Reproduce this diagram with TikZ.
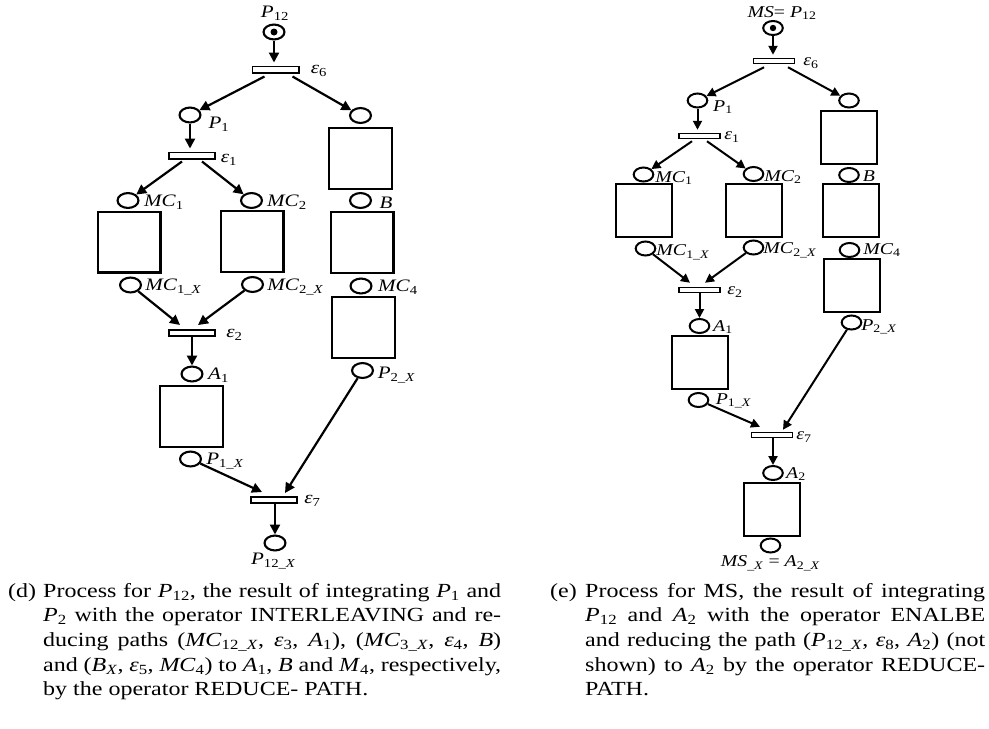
\documentclass[tikz,border=0pt]{standalone}
\usepackage{fontspec}
\setmainfont{Liberation Serif}[FakeStretch=1.2]
\usetikzlibrary{arrows.meta,shapes.geometric}
\newcommand\sub[1]{\textsubscript{#1}}
\newcommand\ux{\_\textit{X}}
\begin{document}
\begin{tikzpicture}[x=1pt,y=-1pt,
  placeL/.style={ellipse,draw,line width=2.1pt,inner sep=0,minimum width=20.9pt,minimum height=14.9pt},
  placeR/.style={ellipse,draw,line width=2pt,inner sep=0,minimum width=19.6pt,minimum height=14pt},
  transL/.style={rectangle,draw,line width=1.6pt,inner sep=0,minimum width=46.4pt,minimum height=6.4pt},
  transR/.style={rectangle,draw,line width=1.5pt,inner sep=0,minimum width=40.8pt,minimum height=5pt},
  boxL/.style={rectangle,draw,line width=2.2pt,inner sep=0,minimum width=62.8pt,minimum height=60.8pt},
  boxR/.style={rectangle,draw,line width=2pt,inner sep=0,minimum width=56pt,minimum height=53pt},
  lblL/.style={inner sep=0,font=\fontsize{17.5}{19}\selectfont},
  lblR/.style={inner sep=0,font=\fontsize{16.5}{18}\selectfont},
  arcL/.style={-{Triangle[length=10pt,width=10pt]},line width=2.2pt},
  arcR/.style={-{Triangle[length=9pt,width=9pt]},line width=2pt},
  capt/.style={inner sep=0,anchor=base west,font=\fontsize{20}{24.7}\selectfont}]
\useasboundingbox (0,0) rectangle (989,729);

% ---------------- process (d) ----------------
\node[placeL] (p12) at (274,32) {};
\fill (p12) circle (3.5pt);
\node[lblL] (lp12) at (275,13) {\textit{P}\sub{12}};
\node[transL] (e6) at (275.5,69.5) {};
\node[lblL] (le6) at (319,71) {\textit{ε}\sub{6}};
\node[placeL] (p1) at (190,115) {};
\node[lblL] (lp1) at (219,124) {\textit{P}\sub{1}};
\node[placeL] (q1) at (360.5,115.5) {};
\node[boxL] (b1) at (360.5,158.5) {};
\node[transL] (e1) at (192,155.5) {};
\node[lblL] (le1) at (229,160) {\textit{ε}\sub{1}};

\node[placeL] (mc1) at (128,200.5) {};
\node[lblL] (lmc1) at (164,202) {\textit{MC}\sub{1}};
\node[boxL] (bm1) at (129,242) {};
\node[placeL] (mc1x) at (130.5,285) {};
\node[lblL] (lmc1x) at (173.5,287) {\textit{MC}\sub{1\ux}};

\node[placeL] (mc2) at (251.5,200.5) {};
\node[lblL] (lmc2) at (287,202) {\textit{MC}\sub{2}};
\node[boxL] (bm2) at (252,241.5) {};
\node[placeL] (mc2x) at (252.5,284.5) {};
\node[lblL] (lmc2x) at (295.5,287) {\textit{MC}\sub{2\ux}};

\node[placeL] (bp) at (360.5,200.5) {};
\node[lblL] (lbp) at (386,203) {\textit{B}};
\node[boxL] (b2) at (362,242.5) {};
\node[placeL] (mc4) at (361,286) {};
\node[lblL] (lmc4) at (398,287) {\textit{MC}\sub{4}};
\node[boxL] (b3) at (363.5,327.5) {};
\node[placeL] (p2x) at (362.5,370.5) {};
\node[lblL] (lp2x) at (396.5,375) {\textit{P}\sub{2\ux}};

\node[transL] (e2) at (192,333) {};
\node[lblL] (le2) at (234.5,335) {\textit{ε}\sub{2}};
\node[placeL] (a1) at (192,374) {};
\node[lblL] (la1) at (218.5,375) {\textit{A}\sub{1}};
\node[boxL] (ba1) at (191.5,416.5) {};
\node[placeL] (p1x) at (190.5,459) {};
\node[lblL] (lp1x) at (225,461) {\textit{P}\sub{1\ux}};
\node[transL] (e7) at (274,500) {};
\node[lblL] (le7) at (312.5,501) {\textit{ε}\sub{7}};
\node[placeL] (p12x) at (275,543) {};
\node[lblL] (lp12x) at (273.5,561) {\textit{P}\sub{12\ux}};

\draw[arcL,shorten >=3pt] (p12) -- (p12 |- e6.north);
\draw[arcL] ([xshift=-11pt,yshift=-3pt]e6.south) -- (p1);
\draw[arcL] ([xshift=17pt,yshift=-3pt]e6.south) -- (q1);
\draw[arcL,shorten >=3pt] (p1) -- (p1 |- e1.north);
\draw[arcL] ([xshift=-10pt,yshift=-2pt]e1.south) -- (mc1);
\draw[arcL] ([xshift=10pt,yshift=-2pt]e1.south) -- (mc2);
\draw[arcL] (mc1x) -- ([xshift=-12pt,yshift=4pt]e2.north);
\draw[arcL] (mc2x) -- ([xshift=6pt,yshift=4pt]e2.north);
\draw[arcL] (a1 |- e2.south) -- (a1);
\draw[arcL] (p1x) -- ([xshift=-12pt,yshift=4pt]e7.north);
\draw[arcL] (p2x) -- ([xshift=11pt,yshift=3pt]e7.north);
\draw[arcL] (p12x |- e7.south) -- (p12x);

% ---------------- process (e) ----------------
\node[placeR] (ms) at (773,28) {};
\fill (ms) circle (3.2pt);
\node[lblR] (lms) at (782,13) {\textit{MS}= \textit{P}\sub{12}};
\node[transR] (f6) at (774,61) {};
\node[lblR] (lf6) at (811,63) {\textit{ε}\sub{6}};
\node[placeR] (r1) at (697.5,100.5) {};
\node[lblR] (lr1) at (723,107) {\textit{P}\sub{1}};
\node[placeR] (s1) at (849,100.5) {};
\node[boxR] (c1) at (849,137.5) {};
\node[transR] (f1) at (699.5,136) {};
\node[lblR] (lf1) at (732,137) {\textit{ε}\sub{1}};

\node[placeR] (rm1) at (643.5,174.5) {};
\node[lblR] (lrm1) at (674,178) {\textit{MC}\sub{1}};
\node[boxR] (cm1) at (644,210.5) {};
\node[placeR] (rm1x) at (645.5,248.5) {};
\node[lblR] (lrm1x) at (683,252) {\textit{MC}\sub{1\ux}};

\node[placeR] (rm2) at (753.5,174) {};
\node[lblR] (lrm2) at (783,177) {\textit{MC}\sub{2}};
\node[boxR] (cm2) at (753.5,210) {};
\node[placeR] (rm2x) at (753.5,247.5) {};
\node[lblR] (lrm2x) at (790,250) {\textit{MC}\sub{2\ux}};

\node[placeR] (rb) at (849,175) {};
\node[lblR] (lrb) at (869,176) {\textit{B}};
\node[boxR] (c2) at (851,210.5) {};
\node[placeR] (rm4) at (849.5,250) {};
\node[lblR] (lrm4) at (882,250) {\textit{MC}\sub{4}};
\node[boxR] (c3) at (852,285.5) {};
\node[placeR] (r2x) at (851.5,322.5) {};
\node[lblR] (lr2x) at (879,327) {\textit{P}\sub{2\ux}};

\node[transR] (f2) at (699.5,290) {};
\node[lblR] (lf2) at (735,292) {\textit{ε}\sub{2}};
\node[placeR] (ra1) at (699.5,326) {};
\node[lblR] (lra1) at (723,327) {\textit{A}\sub{1}};
\node[boxR] (ca1) at (699.5,362.5) {};
\node[placeR] (r1x) at (698.5,400) {};
\node[lblR] (lr1x) at (733.5,401) {\textit{P}\sub{1\ux}};
\node[transR] (f7) at (772,435) {};
\node[lblR] (lf7) at (804,437) {\textit{ε}\sub{7}};
\node[placeR] (ra2) at (773,473) {};
\node[lblR] (lra2) at (796,474) {\textit{A}\sub{2}};
\node[boxR] (ca2) at (771.5,509.5) {};
\node[placeR] (rmsx) at (770.5,545.5) {};
\node[lblR] (lrmsx) at (770.5,563) {\textit{MS}\sub{\ux} = \textit{A}\sub{2\ux}};

\draw[arcR,shorten >=3pt] (ms) -- (ms |- f6.north);
\draw[arcR] ([xshift=-10pt,yshift=-3pt]f6.south) -- (r1);
\draw[arcR] ([xshift=14pt,yshift=-3pt]f6.south) -- (s1);
\draw[arcR,shorten >=3pt] (r1) -- (r1 |- f1.north);
\draw[arcR] ([xshift=-7.5pt,yshift=-2pt]f1.south) -- (rm1);
\draw[arcR] ([xshift=7.5pt,yshift=-2pt]f1.south) -- (rm2);
\draw[arcR] (rm1x) -- ([xshift=-9.5pt,yshift=4pt]f2.north);
\draw[arcR] (rm2x) -- ([xshift=5.5pt,yshift=4pt]f2.north);
\draw[arcR] (ra1 |- f2.south) -- (ra1);
\draw[arcR] (r1x) -- ([xshift=-12pt,yshift=5pt]f7.north);
\draw[arcR] (r2x) -- ([xshift=11pt,yshift=2pt]f7.north);
\draw[arcR] (ra2 |- f7.south) -- (ra2);

% ---------------- captions ----------------
\node[capt] (capd) at (8,597) {\begin{tabular}[t]{@{}p{35pt}@{}p{458pt}@{}}
(d) & Process for \textit{P}\sub{12}, the result of integrating \textit{P}\sub{1} and\linebreak
\textit{P}\sub{2} with the operator INTERLEAVING and re-\linebreak
ducing paths (\textit{MC}\sub{12\ux}, \textit{ε}\sub{3}, \textit{A}\sub{1}), (\textit{MC}\sub{3\ux}, \textit{ε}\sub{4}, \textit{B})\linebreak
and (\textit{B}\sub{\textit{X}}, \textit{ε}\sub{5}, \textit{MC}\sub{4}) to \textit{A}\sub{1}, \textit{B} and \textit{M}\sub{4}, respectively,\linebreak
by the operator REDUCE- PATH.
\end{tabular}};
\node[capt] (cape) at (550,597) {\begin{tabular}[t]{@{}p{35pt}@{}p{400pt}@{}}
(e) & Process for MS, the result of integrating\linebreak
\textit{P}\sub{12} and \textit{A}\sub{2} with the operator ENALBE\linebreak
and reducing the path (\textit{P}\sub{12\ux}, \textit{ε}\sub{8}, \textit{A}\sub{2}) (not\linebreak
shown) to \textit{A}\sub{2} by the operator REDUCE-\linebreak
PATH.
\end{tabular}};
\end{tikzpicture}
\end{document}
